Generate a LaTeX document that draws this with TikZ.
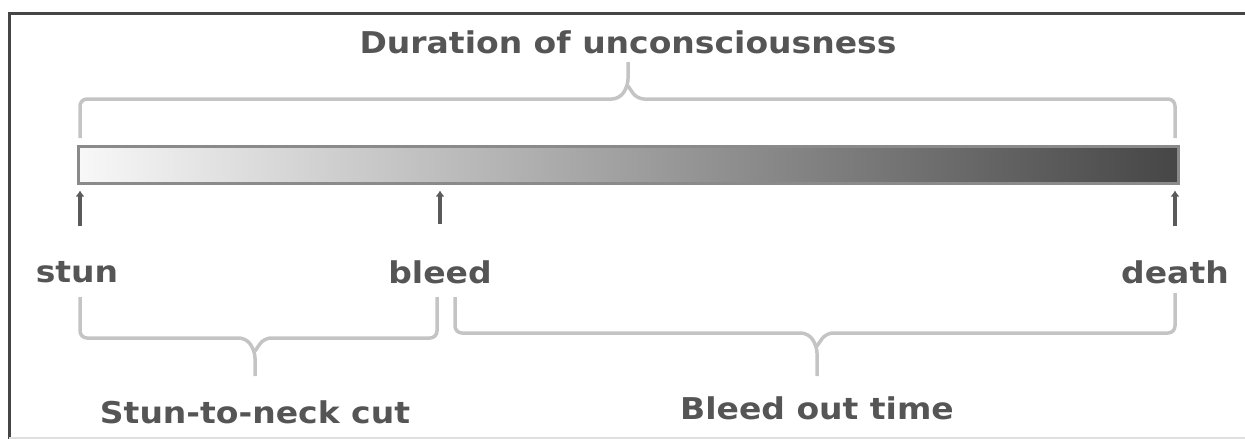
\documentclass[tikz,border=0pt]{standalone}
\usepackage{fontspec}
\newfontfamily\lblfont[FakeStretch=1.1]{DejaVu Sans Bold}
\usetikzlibrary{arrows.meta}
\definecolor{txtgray}{HTML}{555555}
\definecolor{brgray}{HTML}{C4C4C4}
\definecolor{framedark}{HTML}{454545}
\definecolor{bardark}{HTML}{464646}
\definecolor{barlight}{HTML}{F8F8F8}
\definecolor{barborder}{HTML}{8A8A8A}
\definecolor{arrgray}{HTML}{5A5A5A}
\tikzset{
  lbl/.style={font=\lblfont\fontsize{30pt}{34pt}\selectfont, text=txtgray, inner sep=0pt},
  brace/.style={draw=brgray, line width=3.5pt, rounded corners=7pt},
  marker/.style={draw=arrgray, line width=3.5pt, -{Latex[length=6pt,width=9pt]}},
  barbox/.style={draw=barborder, line width=3pt, left color=barlight, right color=bardark, inner sep=0pt}
}
\begin{document}
\begin{tikzpicture}[x=1pt,y=-1pt]
\useasboundingbox (0,0) rectangle (1245,439);
% frame
\draw[framedark, line width=3pt] (9,439) -- (9,13) -- (1245,13);
\draw[gray!25, line width=1.5pt] (9,438) -- (1245,438);
% title
\node[lbl] (title) at (628,42) {Duration of unconsciousness};
% bar
\node[barbox, minimum width=1100pt, minimum height=37pt] (bar) at (628,164.5) {};
% labels
\node[lbl] (stun) at (77,272) {stun};
\node[lbl] (bleed) at (440,272) {bleed};
\node[lbl] (death) at (1175,272) {death};
\node[lbl] (stnc) at (255,412) {Stun-to-neck cut};
\node[lbl] (bot) at (817,408) {Bleed out time};
% arrow bases
\coordinate (a1) at (80,226);
\coordinate (a2) at (440,224);
\coordinate (a3) at (1175,226);
\draw[marker, shorten >=6pt] (a1) -- (a1 |- bar.south);
\draw[marker, shorten >=6pt] (a2) -- (a2 |- bar.south);
\draw[marker, shorten >=6pt] (a3) -- (a3 |- bar.south);
% top brace
\coordinate (tt) at (628,62);
\draw[brace] (80,138) -- (80,99) -- (619,99) -- (628,86) -- (tt);
\draw[brace] (628,86) -- (637,99) -- (1175,99) -- (1175,138);
% bottom left brace
\coordinate (bl) at (255,376);
\draw[brace] (80,297) -- (80,338) -- (246,338) -- (255,351) -- (bl);
\draw[brace] (255,351) -- (264,338) -- (437,338) -- (437,297);
% bottom right brace
\coordinate (br) at (817,376);
\draw[brace] (455,297) -- (455,333) -- (808,333) -- (817,346) -- (br);
\draw[brace] (817,346) -- (826,333) -- (1175,333) -- (1175,293);
\end{tikzpicture}
\end{document}
